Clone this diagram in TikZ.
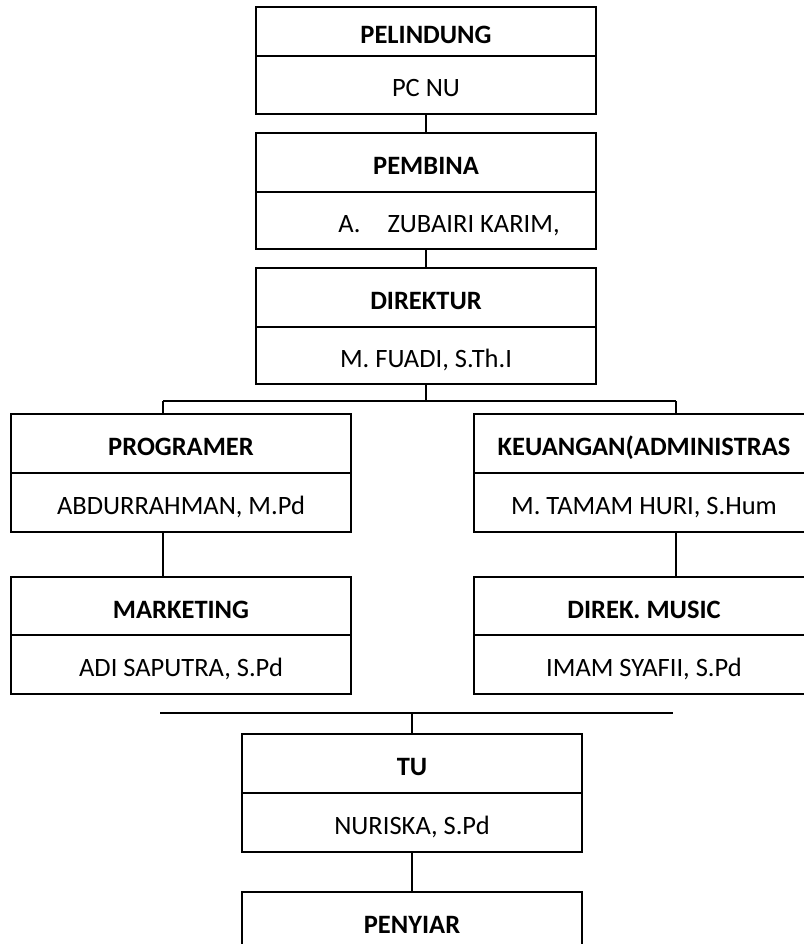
\documentclass[tikz,border=0pt]{standalone}
\usepackage{fontspec}
\setmainfont{Carlito}
\usetikzlibrary{positioning}

\begin{document}
\begin{tikzpicture}[x=1pt, y=-1pt,
    kotak/.style={draw=black, line width=1.9pt, fill=white, anchor=north, minimum width=340pt, inner sep=0pt, outer sep=0pt, text height=24pt, text depth=0pt, font=\fontsize{26.5}{31}\selectfont},
    kepala/.style={kotak, font=\fontsize{26.5}{31}\selectfont\bfseries, minimum height=59pt},
    isi/.style={kotak, minimum height=58pt},
    garis/.style={line width=1.9pt}]
    \useasboundingbox (0,0) rectangle (803,944);
    % pelindung - pembina - direktur
    \node[kepala, minimum height=49pt] (pelindung) at (426,7) {PELINDUNG};
    \node[isi, below=0pt of pelindung] (pcnu) {PC NU};
    \node[kepala] (pembina) at (426,133) {PEMBINA};
    \node[isi, minimum height=57pt, below=0pt of pembina] (zubairi) {\hspace*{46pt}A.\hspace{27pt}ZUBAIRI KARIM,};
    \node[kepala] (direktur) at (426,268) {DIREKTUR};
    \node[isi, minimum height=57pt, below=0pt of direktur] (fuadi) {M. FUADI, S.Th.I};
    % kiri
    \node[kepala] (programer) at (181,414) {PROGRAMER};
    \node[isi, minimum height=59pt, below=0pt of programer] (abdurrahman) {ABDURRAHMAN, M.Pd};
    \node[kepala, minimum height=58pt] (marketing) at (181,577) {MARKETING};
    \node[isi, minimum height=59pt, below=0pt of marketing] (adi) {ADI SAPUTRA, S.Pd};
    % kanan
    \node[kepala] (keuangan) at (644,414) {KEUANGAN(ADMINISTRAS};
    \node[isi, minimum height=59pt, below=0pt of keuangan] (tamam) {M. TAMAM HURI, S.Hum};
    \node[kepala, minimum height=58pt] (music) at (644,577) {DIREK. MUSIC};
    \node[isi, minimum height=59pt, below=0pt of music] (imam) {IMAM SYAFII, S.Pd};
    % bawah
    \node[kepala] (tu) at (412,734) {TU};
    \node[isi, minimum height=59pt, below=0pt of tu] (nuriska) {NURISKA, S.Pd};
    \node[kepala, minimum height=59pt, below=40pt of nuriska] (penyiar) {PENYIAR};

    \coordinate (cabangL) at (163,401);
    \coordinate (cabangR) at (676,401);
    \coordinate (garisL) at (160,713);
    \coordinate (garisR) at (673,713);

    \foreach \a/\b in {pcnu/pembina, zubairi/direktur, nuriska/penyiar}
        \draw[garis] (\a.south) -- (\b.north);
    \draw[garis] (fuadi.south) -- (fuadi.south |- cabangL);
    \draw[garis] (cabangL) -- (cabangR);
    \draw[garis] (cabangL) -- (cabangL |- programer.north);
    \draw[garis] (cabangR) -- (cabangR |- keuangan.north);
    \draw[garis] (cabangL |- abdurrahman.south) -- (cabangL |- marketing.north);
    \draw[garis] (cabangR |- tamam.south) -- (cabangR |- music.north);
    \draw[garis] (garisL) -- (garisR);
    \draw[garis] (tu.north) -- (tu.north |- garisL);
\end{tikzpicture}
\end{document}
